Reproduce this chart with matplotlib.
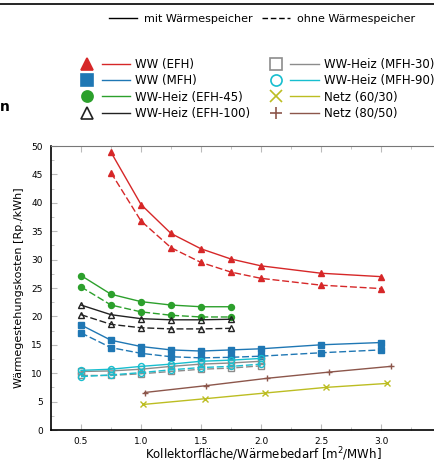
import matplotlib
matplotlib.use("Agg")
import matplotlib.pyplot as plt
from matplotlib.lines import Line2D
from matplotlib.legend_handler import HandlerTuple
from matplotlib.ticker import MultipleLocator

# === Data ===
x_efh = [0.75, 1.0, 1.25, 1.5, 1.75, 2.0, 2.5, 3.0]
ww_efh_mit = [48.9, 39.7, 34.6, 31.9, 30.1, 28.9, 27.6, 27.0]
ww_efh_ohne = [45.3, 36.8, 32.1, 29.5, 27.8, 26.7, 25.5, 24.9]

x_mfh = [0.5, 0.75, 1.0, 1.25, 1.5, 1.75, 2.0, 2.5, 3.0]
ww_mfh_mit = [18.5, 15.8, 14.7, 14.1, 13.9, 14.1, 14.3, 15.0, 15.4]
ww_mfh_ohne = [17.1, 14.5, 13.5, 12.9, 12.7, 12.8, 13.0, 13.6, 14.1]

x_heiz_efh = [0.5, 0.75, 1.0, 1.25, 1.5, 1.75]
efh45_mit = [27.2, 23.9, 22.6, 22.0, 21.7, 21.7]
efh45_ohne = [25.2, 22.0, 20.8, 20.2, 19.9, 19.9]
efh100_mit = [22.0, 20.3, 19.6, 19.4, 19.4, 19.5]
efh100_ohne = [20.3, 18.6, 18.0, 17.8, 17.8, 17.9]

x_heiz_mfh = [0.5, 0.75, 1.0, 1.25, 1.5, 1.75, 2.0]
mfh30_mit = [10.3, 10.4, 10.7, 11.2, 11.6, 11.8, 12.1]
mfh30_ohne = [9.6, 9.6, 9.9, 10.3, 10.7, 10.9, 11.3]
mfh90_mit = [10.5, 10.7, 11.2, 11.6, 12.1, 12.3, 12.6]
mfh90_ohne = [9.4, 9.7, 10.1, 10.6, 11.0, 11.2, 11.6]

x_netz60 = [1.02, 1.53, 2.03, 2.54, 3.05]
netz60 = [4.5, 5.5, 6.5, 7.5, 8.2]
x_netz80 = [1.03, 1.54, 2.05, 2.57, 3.08]
netz80 = [6.6, 7.8, 9.1, 10.2, 11.2]

# series: label -> (color, marker, filled)
styles = {
    'WW (EFH)': ('#d62728', '^', True),
    'WW (MFH)': ('#1f77b4', 's', True),
    'WW-Heiz (EFH-45)': ('#2ca02c', 'o', True),
    'WW-Heiz (EFH-100)': ('#222222', '^', False),
    'WW-Heiz (MFH-30)': ('#8c8c8c', 's', False),
    'WW-Heiz (MFH-90)': ('#17becf', 'o', False),
    'Netz (60/30)': ('#bcbd22', 'x', True),
    'Netz (80/50)': ('#8c564b', '+', True),
}

series = [
    ('WW (EFH)', x_efh, ww_efh_mit, '-'),
    ('WW (EFH)', x_efh, ww_efh_ohne, '--'),
    ('WW (MFH)', x_mfh, ww_mfh_mit, '-'),
    ('WW (MFH)', x_mfh, ww_mfh_ohne, '--'),
    ('WW-Heiz (EFH-45)', x_heiz_efh, efh45_mit, '-'),
    ('WW-Heiz (EFH-45)', x_heiz_efh, efh45_ohne, '--'),
    ('WW-Heiz (EFH-100)', x_heiz_efh, efh100_mit, '-'),
    ('WW-Heiz (EFH-100)', x_heiz_efh, efh100_ohne, '--'),
    ('WW-Heiz (MFH-30)', x_heiz_mfh, mfh30_mit, '-'),
    ('WW-Heiz (MFH-30)', x_heiz_mfh, mfh30_ohne, '--'),
    ('WW-Heiz (MFH-90)', x_heiz_mfh, mfh90_mit, '-'),
    ('WW-Heiz (MFH-90)', x_heiz_mfh, mfh90_ohne, '--'),
    ('Netz (60/30)', x_netz60, netz60, '-'),
    ('Netz (80/50)', x_netz80, netz80, '-'),
]

plt.rcParams['font.family'] = 'DejaVu Sans'

fig = plt.figure(figsize=(4.35, 4.62), dpi=100)
# axes run past the right edge of the picture (cropped like the original)
ax = fig.add_axes([51 / 435, 32 / 462, 420 / 435, 284 / 462])

for name, xs, ys, ls in series:
    color, marker, filled = styles[name]
    ms = 4.3 if marker in ('^', 's', 'o') else 4
    ax.plot(xs, ys, linestyle=ls, color=color, linewidth=1.0,
            marker=marker, markersize=ms,
            markerfacecolor=color if filled else 'none',
            markeredgecolor=color, markeredgewidth=1.0,
            dashes=(5, 2) if ls == '--' else (None, None))

ax.set_xlim(0.25, 3.75)
ax.set_ylim(0, 50)
ax.xaxis.set_major_locator(MultipleLocator(0.5))
ax.xaxis.set_minor_locator(MultipleLocator(0.25))
ax.yaxis.set_major_locator(MultipleLocator(5))
ax.yaxis.set_minor_locator(MultipleLocator(2.5))
ax.set_xticks([0.5, 1.0, 1.5, 2.0, 2.5, 3.0])
ax.set_xticklabels(['0.5', '1.0', '1.5', '2.0', '2.5', '3.0'])
ax.tick_params(which='both', direction='in', top=True, right=False,
               color='#bbbbbb', labelsize=6.5)
ax.tick_params(axis='x', pad=5)
ax.tick_params(axis='y', pad=6)
ax.tick_params(which='major', length=4)
ax.tick_params(which='minor', length=2)
ax.spines['right'].set_visible(False)
ax.spines['top'].set_color('#777777')
for s in ('left', 'bottom'):
    ax.spines[s].set_linewidth(1.2)

ax.set_ylabel('Wärmegestehungskosten [Rp./kWh]', fontsize=8, labelpad=5)
fig.text(263 / 435, 1 - 454 / 462, 'Kollektorfläche/Wärmebedarf [m$^2$/MWh]',
         fontsize=8.5, ha='center', va='center')

# line-style legend
h_style = [Line2D([], [], color='black', lw=1.0, ls='-'),
           Line2D([], [], color='black', lw=1.0, ls='--', dashes=(4, 2))]
fig.legend(h_style, ['mit Wärmespeicher', 'ohne Wärmespeicher'],
           loc='center right', bbox_to_anchor=(415 / 435, 1 - 19 / 462),
           ncol=2, frameon=False, fontsize=8, handlelength=2.5,
           handletextpad=0.6, columnspacing=0.9, borderaxespad=0, borderpad=0)

# series legend: marker, then a short line
order = ['WW (EFH)', 'WW (MFH)', 'WW-Heiz (EFH-45)', 'WW-Heiz (EFH-100)',
         'WW-Heiz (MFH-30)', 'WW-Heiz (MFH-90)', 'Netz (60/30)', 'Netz (80/50)']
handles = []
for name in order:
    color, marker, filled = styles[name]
    mk = Line2D([], [], ls='none', marker=marker, markersize=8,
                markerfacecolor=color if filled else 'none',
                markeredgecolor=color, markeredgewidth=1.2)
    ln = Line2D([], [], color=color, lw=1.0)
    handles.append((mk, ln))
fig.legend(handles, order, handler_map={tuple: HandlerTuple(ndivide=None, pad=0)},
           loc='upper right', bbox_to_anchor=(434 / 435, 1 - 58 / 462),
           ncol=2, frameon=False, fontsize=8.5, handlelength=4.8,
           handletextpad=0.42, columnspacing=1.0, labelspacing=0.28,
           borderaxespad=0, borderpad=0)

# remains of the surrounding page: rule at the top and a cut-off heading
fig.add_artist(Line2D([0, 1], [1 - 4 / 462, 1 - 4 / 462], color='black', lw=1.2))
fig.text(0, 1 - 107 / 462, 'n', fontsize=10, fontweight='bold',
         ha='left', va='center')

fig.savefig('out.png', dpi=100)
